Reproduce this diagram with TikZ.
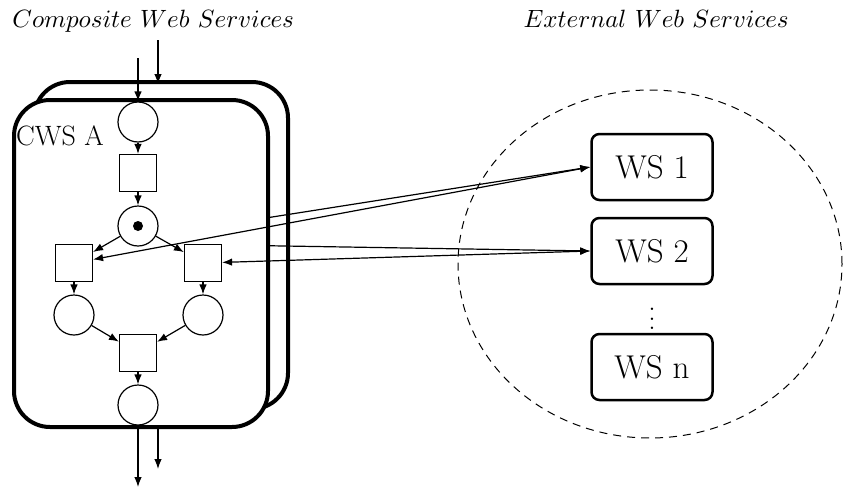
\documentclass[tikz,border=0pt]{standalone}
\usetikzlibrary{arrows.meta,shapes.geometric}
\begin{document}
\begin{tikzpicture}[x=1pt,y=-1pt,
  place/.style={circle,draw,line width=1.2pt,minimum size=40pt,inner sep=0pt,fill=white},
  trans/.style={rectangle,draw,line width=1.2pt,minimum size=37pt,inner sep=0pt,fill=white},
  flow/.style={line width=1.2pt,-{Latex[length=10pt,width=7.5pt]}},
  duplex/.style={line width=1.2pt,{Latex[length=10pt,width=7.5pt]}-{Latex[length=10pt,width=7.5pt]}},
  cws/.style={draw,line width=4pt,rounded corners=36pt,fill=white},
  wsbox/.style={draw,rectangle,rounded corners=8pt,line width=2.5pt,minimum width=121pt,
    minimum height=66pt,inner sep=0pt,font=\fontsize{33}{39}\selectfont},
  heading/.style={anchor=base west,inner sep=0pt,scale=2.5}]
\useasboundingbox (0,0) rectangle (843,490);

% headings
\node[heading] (tcws) at (12,27) {$Composite\ Web\ Services$};
\node[heading] (tws) at (523,27) {$External\ Web\ Services$};

% external services
\node[draw,dashed,dash pattern=on 8pt off 6pt,line width=1pt,ellipse,
  minimum width=384pt,minimum height=348pt,inner sep=0pt] (ext) at (650,264) {};
\node[wsbox] (ws1) at (652,167) {WS 1};
\node[wsbox] (ws2) at (652,251) {WS 2};
\node[scale=2.3,inner sep=0pt] (dots) at (652,312) {$\vdots$};
\node[wsbox] (wsn) at (652,367) {WS n};

% second instance, behind
\draw[cws] (34,82) rectangle (288,409);
\coordinate (bin0) at (158,40);
\coordinate (bin) at (158,84);
\coordinate (bout) at (158,407);
\coordinate (bout0) at (158,469);
\coordinate (bl) at (94,245);
\coordinate (br) at (223,245);
\draw[flow] (bin0) -- (bin);
\draw[flow] (bout) -- (bout0);
\draw[flow] (bl) -- (ws1.west);
\draw[flow] (br) -- (ws2.west);

% front instance
\draw[cws] (14,100) rectangle (268,427);
\node[anchor=base west,inner sep=0pt,font=\fontsize{28}{33}\selectfont] (lab) at (16,145) {CWS A};

\node[place] (p1) at (138,122) {};
\node[trans] (t1) at (138,173) {};
\node[place] (p2) at (138,226) {};
\fill (p2.center) circle[radius=5pt];
\node[trans] (tl) at (74,263) {};
\node[trans] (tr) at (203,263) {};
\node[place] (pl) at (74,315) {};
\node[place] (pr) at (203,315) {};
\node[trans] (t3) at (138,353) {};
\node[place] (p6) at (138,405) {};

\coordinate (in0) at (138,58);
\coordinate (out0) at (138,487);

\draw[flow] (in0) -- (p1);
\draw[flow] (p1) -- (t1);
\draw[flow] (t1) -- (p2);
\draw[flow] (p2) -- (tl);
\draw[flow] (p2) -- (tr);
\draw[flow] (tl) -- (pl);
\draw[flow] (tr) -- (pr);
\draw[flow] (pl) -- (t3);
\draw[flow] (pr) -- (t3);
\draw[flow] (t3) -- (p6);
\draw[flow] (p6) -- (out0);

\draw[duplex] (tl) -- (ws1.west);
\draw[duplex] (tr) -- (ws2.west);
\end{tikzpicture}
\end{document}
